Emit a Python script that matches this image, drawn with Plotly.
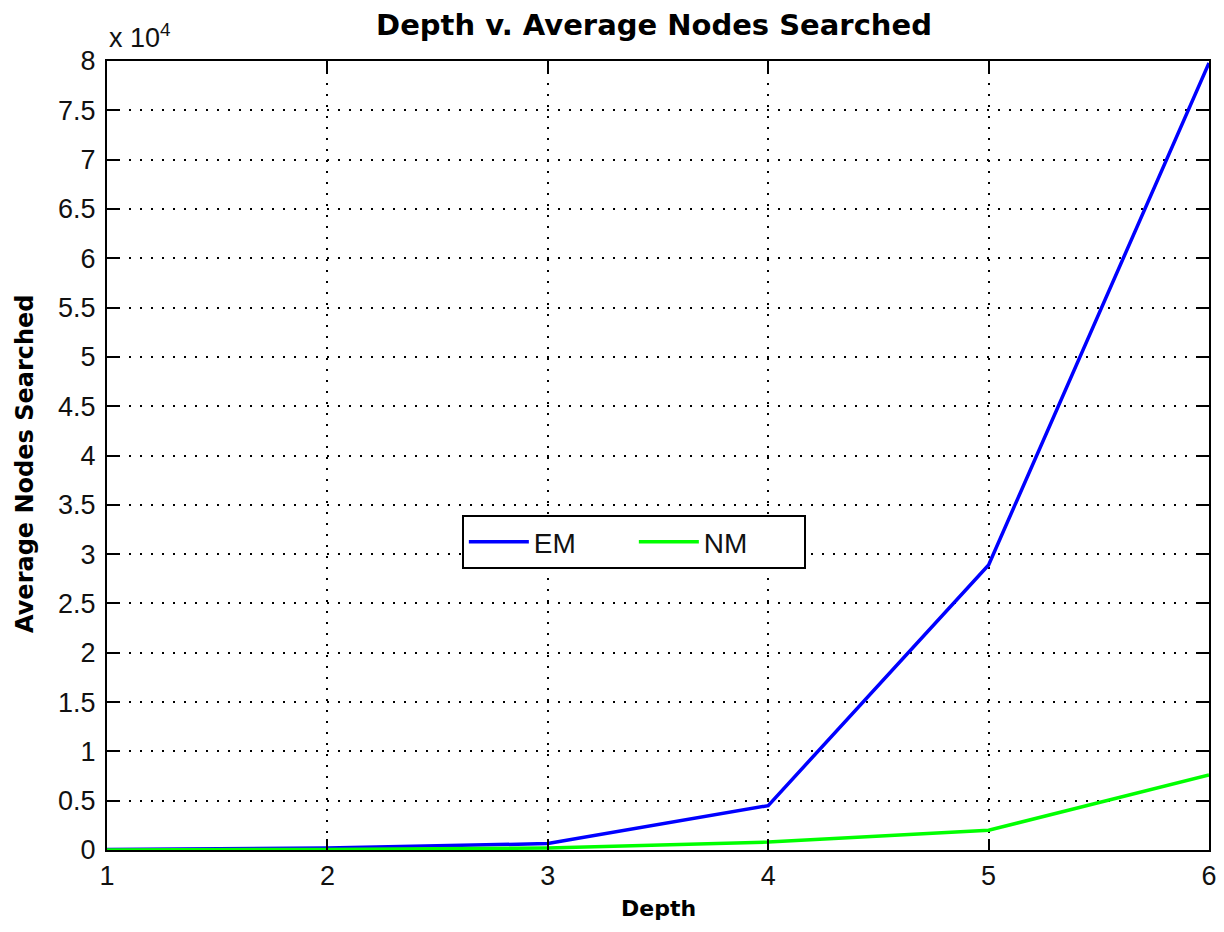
import plotly.graph_objects as go

depth = [1, 2, 3, 4, 5, 6]
em_nodes = [50, 200, 650, 4500, 28900, 79800]
nm_nodes = [10, 60, 200, 800, 2000, 7600]
x_ticks = [1, 2, 3, 4, 5, 6]
y_tick_units = [0, 0.5, 1, 1.5, 2, 2.5, 3, 3.5, 4, 4.5, 5, 5.5, 6, 6.5, 7, 7.5, 8]
y_tick_labels = ["0", "0.5", "1", "1.5", "2", "2.5", "3", "3.5", "4", "4.5", "5",
                 "5.5", "6", "6.5", "7", "7.5", "8"]

FONT = "Liberation Sans, Arial, sans-serif"
BOLD = "DejaVu Sans, Liberation Sans, sans-serif"

fig = go.Figure()
fig.add_trace(go.Scatter(x=depth, y=em_nodes, mode="lines", name="EM",
                         line=dict(color="#0000FF", width=3.5)))
fig.add_trace(go.Scatter(x=depth, y=nm_nodes, mode="lines", name="NM",
                         line=dict(color="#00FF00", width=3.5)))

axis_common = dict(
    showline=True, linecolor="black", linewidth=2, mirror="allticks",
    ticks="inside", ticklen=11, tickcolor="black", tickwidth=2,
    showgrid=True, gridcolor="black", gridwidth=2, griddash="2px,9px",
    zeroline=False, automargin=False, ticklabeloverflow="allow",
    tickfont=dict(family=FONT, size=27, color="#111"),
)

W, H = 1214, 916
L, R, T, B = 99, 13, 53, 74

fig.update_layout(
    width=W, height=H,
    paper_bgcolor="white", plot_bgcolor="white",
    margin=dict(l=L, r=R, t=T, b=B, autoexpand=False),
    title=dict(text="<b>Depth v. Average Nodes Searched</b>", x=646 / W, xanchor="center",
               y=1 - 7 / H, yanchor="top", automargin=False,
               font=dict(family=BOLD, size=29, color="black")),
    xaxis=dict(range=[1, 6], tickvals=x_ticks, ticklabelstandoff=1, **axis_common),
    yaxis=dict(range=[0, 80000], tickvals=[v * 1e4 for v in y_tick_units],
               ticktext=y_tick_labels, ticklabelstandoff=4, **axis_common),
    legend=dict(orientation="h", x=0.322, y=0.4246, xanchor="left", yanchor="top",
                bgcolor="white", bordercolor="black", borderwidth=2,
                font=dict(family=FONT, size=28, color="#111"),
                entrywidth=95, itemwidth=60),
    showlegend=True,
)

plot_h = H - T - B
plot_w = W - L - R
fig.add_annotation(text="<b>Depth</b>", xref="paper", yref="paper",
                   x=0.5, y=-(900 - (H - B)) / plot_h, xanchor="center", yanchor="middle",
                   showarrow=False, font=dict(family=BOLD, size=22, color="black"))
fig.add_annotation(text="<b>Average Nodes Searched</b>", xref="paper", yref="paper",
                   x=(17 - L) / plot_w, y=((H - B) - 456) / plot_h, xanchor="center",
                   yanchor="middle", textangle=-90,
                   showarrow=False, font=dict(family=BOLD, size=24, color="black"))
fig.add_annotation(text="x 10<sup>4</sup>", xref="paper", yref="paper",
                   x=0.0, y=1.0, xanchor="left", yanchor="bottom", yshift=6,
                   showarrow=False, font=dict(family=FONT, size=27, color="#111"))

fig.write_html("out.html")
